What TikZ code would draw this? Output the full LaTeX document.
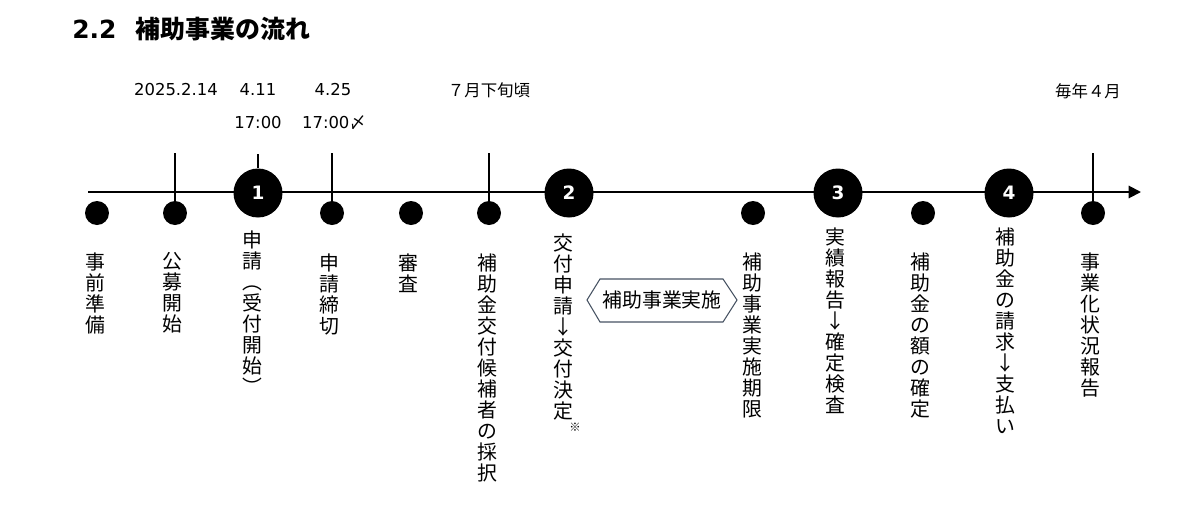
\documentclass[tikz,border=0pt]{standalone}
\usepackage{fontspec}
\setmainfont{Noto Sans CJK JP}
\newfontfamily\lat{DejaVu Sans}
\usetikzlibrary{arrows.meta}
\definecolor{hexline}{RGB}{70,82,98}
\begin{document}
\begin{tikzpicture}[x=0.02cm,y=-0.02cm,
  toplbl/.style={font=\fontsize{9.35pt}{11pt}\selectfont, inner sep=0},
  vlbl/.style={font=\fontsize{11.3pt}{12pt}\selectfont, align=center, inner sep=0, anchor=north},
  smalldot/.style={circle, fill=black, inner sep=0, minimum size=0.48cm},
  bigdot/.style={circle, fill=black, inner sep=0, minimum size=0.98cm, text=white,
    font=\lat\bfseries\fontsize{10.5pt}{12pt}\selectfont},
  tick/.style={line width=1pt},
  axis/.style={line width=1.1pt, -{Triangle[length=7pt,width=7pt]}}
]
\useasboundingbox (0,0) rectangle (1200,511);

% title
\node[anchor=west, inner sep=0, font=\fontsize{14.2pt}{16pt}\selectfont\bfseries] (title) at (72,29)
  {{\lat 2.2}\hspace{0.38cm}補助事業の流れ};

% top labels
\node[toplbl] (d1) at (176,90) {\lat 2025.2.14};
\node[toplbl] (d2) at (258,90) {\lat 4.11};
\node[toplbl] (d2b) at (258,123) {\lat 17:00};
\node[toplbl] (d3) at (333,90) {\lat 4.25};
\node[toplbl] (d3b) at (334,123) {{\lat 17:00}〆};
\node[toplbl] (d4) at (489,90) {７月下旬頃};
\node[toplbl] (d5) at (1088,91) {毎年４月};

% timeline
\coordinate (ls) at (88,192);
\coordinate (le) at (1141,192);
\draw[axis] (ls) -- (le);

% tick tops
\coordinate (t1) at (175,153);
\coordinate (t2) at (258,154);
\coordinate (t3) at (332,153);
\coordinate (t4) at (489,153);
\coordinate (t5) at (1093,153);

% markers
\node[smalldot] (p1) at (97,213) {};
\node[smalldot] (p2) at (175,213) {};
\node[bigdot] (c1) at (258,193) {1};
\node[smalldot] (p3) at (332,213) {};
\node[smalldot] (p4) at (411,213) {};
\node[smalldot] (p5) at (489,213) {};
\node[bigdot] (c2) at (569,193) {2};
\node[smalldot] (p6) at (753,213) {};
\node[bigdot] (c3) at (838,193) {3};
\node[smalldot] (p7) at (923,213) {};
\node[bigdot] (c4) at (1009,193) {4};
\node[smalldot] (p8) at (1093,213) {};

% ticks
\draw[tick] (t1) -- (p2);
\draw[tick] (t2) -- (c1);
\draw[tick] (t3) -- (p3);
\draw[tick] (t4) -- (p5);
\draw[tick] (t5) -- (p8);

% vertical labels
\node[vlbl] (v1) at (95,252) {事\\前\\準\\備};
\node[vlbl] (v2) at (172,252) {公\\募\\開\\始};
\node[vlbl] (v3) at (252,230) {申\\請\\︵\\受\\付\\開\\始\\︶};
\node[vlbl] (v4) at (329,253) {申\\請\\締\\切};
\node[vlbl] (v5) at (408,253) {審\\査};
\node[vlbl] (v6) at (487,253) {補\\助\\金\\交\\付\\候\\補\\者\\の\\採\\択};
\node[vlbl] (v7) at (563,233) {交\\付\\申\\請\\↓\\交\\付\\決\\定};
\node[inner sep=0, font=\fontsize{6.5pt}{7pt}\selectfont] (v7n) at (575,427) {※};
\node[vlbl] (v8) at (752,252) {補\\助\\事\\業\\実\\施\\期\\限};
\node[vlbl] (v9) at (835,227) {実\\績\\報\\告\\↓\\確\\定\\検\\査};
\node[vlbl] (v10) at (920,252) {補\\助\\金\\の\\額\\の\\確\\定};
\node[vlbl] (v11) at (1005,227) {補\\助\\金\\の\\請\\求\\↓\\支\\払\\い};
\node[vlbl] (v12) at (1090,252) {事\\業\\化\\状\\況\\報\\告};

% hexagon
\draw[hexline, line width=0.6pt] (587,300) -- (600,279) -- (723,279) -- (737,300) -- (723,322) -- (600,322) -- cycle;
\node[inner sep=0, font=\fontsize{11.3pt}{12pt}\selectfont] (hx) at (662,300) {補助事業実施};
\end{tikzpicture}
\end{document}
